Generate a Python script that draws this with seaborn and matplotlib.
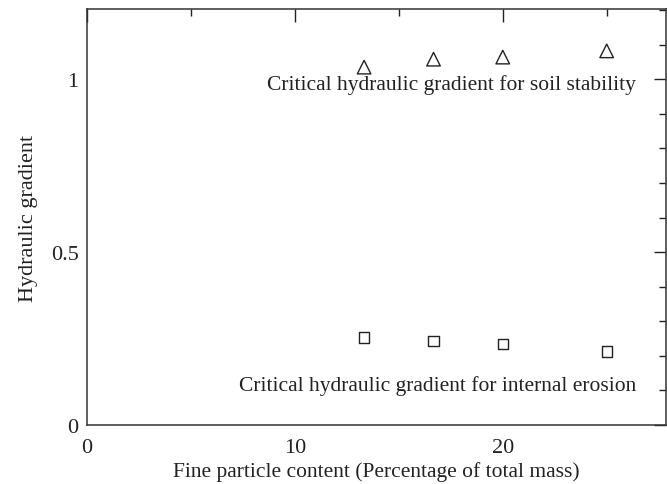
import matplotlib
matplotlib.use("Agg")
import matplotlib.pyplot as plt
from matplotlib.ticker import MultipleLocator
import seaborn as sns
import pandas as pd

# Fine particle content (% of total mass) and critical hydraulic gradients
fines_content = [13.33, 16.67, 20.0, 25.0]
gradient_stability = [1.035, 1.058, 1.064, 1.082]
gradient_erosion = [0.253, 0.244, 0.234, 0.213]

label_stability = "Critical hydraulic gradient for soil stability"
label_erosion = "Critical hydraulic gradient for internal erosion"
x_label = "Fine particle content (Percentage of total mass)"
y_label = "Hydraulic gradient"

sns.set_theme(style="white")
plt.rcParams["font.family"] = ["Liberation Serif", "DejaVu Serif"]

df = pd.DataFrame({
    "fines": fines_content * 2,
    "gradient": gradient_stability + gradient_erosion,
    "kind": ["stability"] * len(fines_content) + ["erosion"] * len(fines_content),
})

fig = plt.figure(figsize=(6.67, 4.85), dpi=100)
ax = fig.add_axes([0.1304, 0.1216, 0.868, 0.857])

sns.scatterplot(data=df[df.kind == "stability"], x="fines", y="gradient",
                marker="^", s=95, facecolor="none", edgecolor="#222222",
                linewidth=1.0, ax=ax, legend=False)
sns.scatterplot(data=df[df.kind == "erosion"], x="fines", y="gradient",
                marker="s", s=55, facecolor="none", edgecolor="#222222",
                linewidth=1.0, ax=ax, legend=False)

ax.set_xlim(0, 27.85)
ax.set_ylim(0, 1.202)

ax.xaxis.set_minor_locator(MultipleLocator(5))
ax.yaxis.set_minor_locator(MultipleLocator(0.1))
ax.set_xticks([0, 10, 20])
ax.set_xticklabels(["0", "10", "20"])
ax.set_yticks([0, 0.5, 1.0])
ax.set_yticklabels(["0", "0.5", "1"])

ax.tick_params(which="both", direction="in", top=True, right=True,
               colors="#222222", labelsize=16, width=1.0)
ax.tick_params(which="major", length=9)
ax.tick_params(axis="x", which="major", pad=9)
ax.tick_params(axis="y", which="major", pad=6)
ax.tick_params(which="minor", length=5)

for sp in ax.spines.values():
    sp.set_color("#333333")
    sp.set_linewidth(1.1)

ax.set_xlabel(x_label, fontsize=15.5, color="#222222", labelpad=3)
ax.set_ylabel(y_label, fontsize=16, color="#222222", labelpad=9)

ax.text(26.4, 0.985, label_stability, ha="right", va="center",
        fontsize=15.5, color="#222222")
ax.text(26.4, 0.115, label_erosion, ha="right", va="center",
        fontsize=15.5, color="#222222")

fig.savefig("out.png", dpi=100)
